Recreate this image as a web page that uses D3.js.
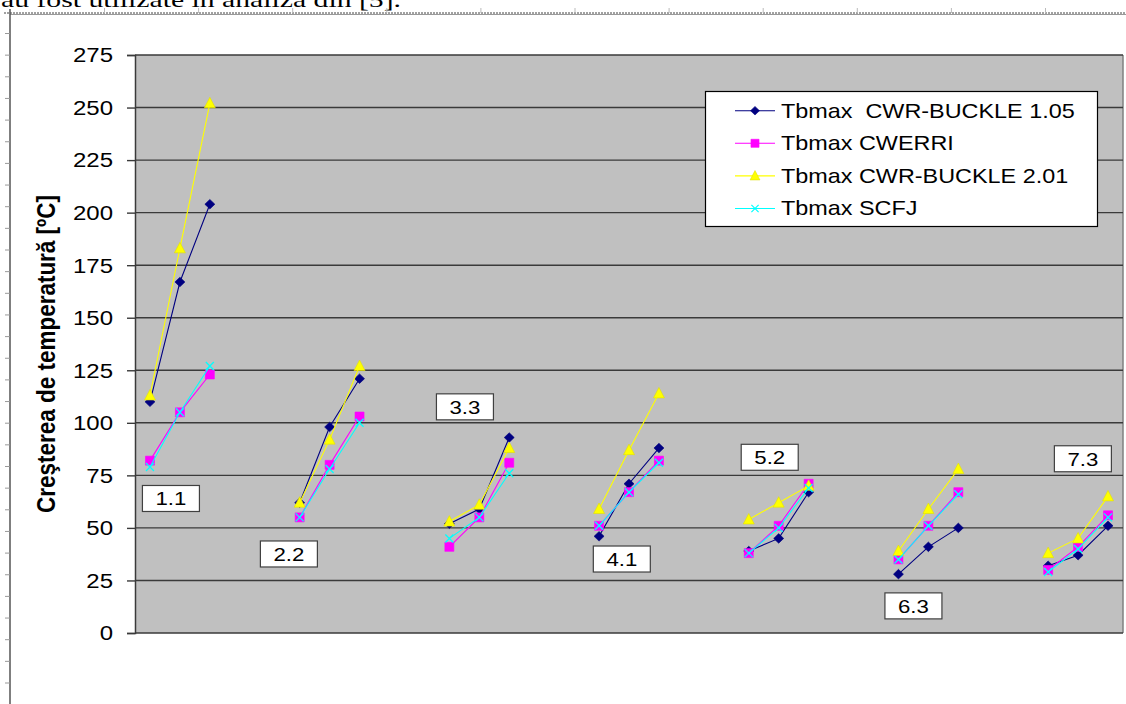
<!DOCTYPE html>
<html>
<head>
<meta charset="utf-8">
<script src="https://cdn.jsdelivr.net/npm/d3@7"></script>
<style>
html,body{margin:0;padding:0;background:#fff;overflow:hidden;}
svg{display:block;}
text{white-space:pre;}
</style>
</head>
<body>
<svg id="chart" width="1126" height="704"></svg>
<script>
// ---------------- data ----------------
const groups = ["1.1", "2.2", "3.3", "4.1", "5.2", "6.3", "7.3"];
const seriesNames = ["Tbmax  CWR-BUCKLE 1.05", "Tbmax CWERRI", "Tbmax CWR-BUCKLE 2.01", "Tbmax SCFJ"];
const buckle105 = [110, 167, 204, 62, 98, 121, 52, 59, 93, 46, 71, 88, 39, 45, 67, 28, 41, 50, 32, 37, 51];
const cwerri    = [82, 105, 123, 55, 80, 103, 41, 55, 81, 51, 67, 82, 38, 51, 71, 35, 51, 67, 30, 41, 56];
const buckle201 = [113, 183, 252, 62, 92, 127, 53, 61, 88, 59, 87, 114, 54, 62, 70, 39, 59, 78, 38, 45, 65];
const scfj      = [79, 105, 127, 55, 78, 100, 45, 55, 76, 51, 67, 81, 38, 50, 69, 35, 51, 66, 29, 40, 55];
const yTicks = [0, 25, 50, 75, 100, 125, 150, 175, 200, 225, 250, 275];
const yTitle = "Creşterea de temperatură [ºC]";
const docText = "au fost utilizate în analiza din [5].";
// label annotations: category position (in category units) and value
const labelNames = ["1.1", "2.2", "3.3", "4.1", "5.2", "6.3", "7.3"];
const labelCat   = [0.7, 4.64, 10.52, 15.76, 20.7, 25.5, 31.16];
const labelVal   = [64, 37.6, 107.6, 35.2, 83.6, 12.9, 82.9];

// ---------------- styling ----------------
const colors = ["#000080", "#FF00FF", "#FFFF00", "#00FFFF"];
const markers = ["diamond", "square", "triangle", "x"];
const pointsPerGroup = 3, slotsPerGroup = 5;
const nCats = groups.length * slotsPerGroup - 2;
const SX = 1.17; // horizontal stretch of text in the reference

const svg = d3.select("#chart");
const m = {left: 135, right: 1123, top: 55, bottom: 633};

const x = d3.scaleLinear().domain([-0.5, nCats - 0.5]).range([m.left, m.right]);
const y = d3.scaleLinear().domain([0, 275]).range([m.bottom, m.top]);

// ---------------- document decorations ----------------
svg.append("text").attr("x", 1).attr("y", 7)
  .attr("font-family", "Liberation Serif, Times New Roman, serif")
  .attr("font-size", 22).attr("fill", "#000")
  .attr("textLength", 400).attr("lengthAdjust", "spacingAndGlyphs")
  .text(docText);
svg.append("line").attr("x1", 4).attr("x2", 1126).attr("y1", 13).attr("y2", 13)
  .attr("stroke", "#444").attr("stroke-width", 1).attr("stroke-dasharray", "2,1");
svg.append("line").attr("x1", 10).attr("x2", 1126).attr("y1", 14.5).attr("y2", 14.5)
  .attr("stroke", "#999").attr("stroke-width", 1);
svg.append("line").attr("x1", 10).attr("x2", 10).attr("y1", 9).attr("y2", 704)
  .attr("stroke", "#555").attr("stroke-width", 1.5);
svg.append("g").selectAll("line").data(d3.range(0, 31)).join("line")
  .attr("x1", 5).attr("x2", 10)
  .attr("y1", d => 33.5 + d * 21.65).attr("y2", d => 33.5 + d * 21.65)
  .attr("stroke", "#999").attr("stroke-width", 1);
svg.append("g").selectAll("line").data(d3.range(0, 11)).join("line")
  .attr("x1", d => 104.5 + d * 94.1).attr("x2", d => 104.5 + d * 94.1)
  .attr("y1", 8).attr("y2", 13)
  .attr("stroke", "#bbb").attr("stroke-width", 1);

// ---------------- plot area ----------------
svg.append("rect").attr("x", m.left).attr("y", m.top)
  .attr("width", m.right - m.left).attr("height", m.bottom - m.top)
  .attr("fill", "#C0C0C0");
svg.append("line").attr("x1", m.right).attr("x2", m.right).attr("y1", m.top).attr("y2", m.bottom)
  .attr("stroke", "#808080").attr("stroke-width", 1.5);

// gridlines
svg.append("g").selectAll("line").data(yTicks).join("line")
  .attr("x1", m.left).attr("x2", m.right)
  .attr("y1", d => y(d)).attr("y2", d => y(d))
  .attr("stroke", "#3a3a3a").attr("stroke-width", 1.4);

// y axis
const yAxis = d3.axisLeft(y).tickValues(yTicks).tickSize(8).tickPadding(14).tickFormat(d3.format("d"));
const ga = svg.append("g").attr("transform", `translate(${m.left},0)`).call(yAxis);
ga.select(".domain").attr("stroke", "#3a3a3a").attr("stroke-width", 1.5);
ga.selectAll(".tick line").attr("stroke", "#3a3a3a").attr("stroke-width", 1.4);
ga.selectAll(".tick text")
  .attr("font-family", "Liberation Sans, Arial, sans-serif").attr("font-size", 20.5)
  .attr("fill", "#000").attr("x", null).attr("dy", null)
  .attr("dominant-baseline", "central")
  .attr("transform", `translate(-22,0) scale(${SX},1)`);

// y title
svg.append("text")
  .attr("transform", `translate(55,354) scale(${SX},1) rotate(-90)`)
  .attr("text-anchor", "middle")
  .attr("font-family", "Liberation Sans, Arial, sans-serif")
  .attr("font-weight", "bold").attr("font-size", 22.5).attr("fill", "#000")
  .text(yTitle);

// ---------------- series ----------------
const seriesData = [buckle105, cwerri, buckle201, scfj];
const catIndex = i => Math.floor(i / pointsPerGroup) * slotsPerGroup + (i % pointsPerGroup);

function markerPath(type) {
  if (type === "diamond") return "M0,-4.8L5,0L0,4.8L-5,0Z";
  if (type === "square") return "M-4.5,-4.5H4.5V4.5H-4.5Z";
  if (type === "triangle") return "M0,-6L5.5,4.5H-5.5Z";
  return "M-4,-4L4,4M-4,4L4,-4";
}
function drawMarker(g, type, color) {
  const p = g.append("path").attr("d", markerPath(type));
  if (type === "x") p.attr("fill", "none").attr("stroke", color).attr("stroke-width", 1.3);
  else p.attr("fill", color).attr("stroke", type === "triangle" ? "#e0e000" : color).attr("stroke-width", 0.6);
}

const line = d3.line().x(d => x(d.c)).y(d => y(d.v));
seriesData.forEach((vals, s) => {
  const g = svg.append("g");
  groups.forEach((gname, gi) => {
    const pts = d3.range(pointsPerGroup).map(k => {
      const i = gi * pointsPerGroup + k;
      return {c: catIndex(i), v: vals[i]};
    });
    g.append("path").attr("d", line(pts)).attr("fill", "none")
      .attr("stroke", colors[s]).attr("stroke-width", 1.1);
  });
  vals.forEach((v, i) => {
    const mg = g.append("g").attr("transform", `translate(${x(catIndex(i))},${y(v)})`);
    drawMarker(mg, markers[s], colors[s]);
  });
});

// ---------------- group labels ----------------
labelNames.forEach((name, i) => {
  const cx = x(labelCat[i]), cy = y(labelVal[i]);
  svg.append("rect").attr("x", cx - 28.5).attr("y", cy - 13).attr("width", 57).attr("height", 26)
    .attr("fill", "#fff").attr("stroke", "#404040").attr("stroke-width", 1.2);
  svg.append("text").attr("transform", `translate(${cx},${cy}) scale(${SX},1)`)
    .attr("text-anchor", "middle").attr("dominant-baseline", "central")
    .attr("font-family", "Liberation Sans, Arial, sans-serif").attr("font-size", 19)
    .attr("fill", "#000").text(name);
});

// ---------------- legend ----------------
const lg = svg.append("g");
lg.append("rect").attr("x", 705.5).attr("y", 91.5).attr("width", 392).attr("height", 135)
  .attr("fill", "#fff").attr("stroke", "#000").attr("stroke-width", 1.2);
seriesNames.forEach((name, s) => {
  const cy = 110.7 + s * 32.6;
  lg.append("line").attr("x1", 735).attr("x2", 775).attr("y1", cy).attr("y2", cy)
    .attr("stroke", colors[s]).attr("stroke-width", 1.1);
  const mg = lg.append("g").attr("transform", `translate(755,${cy}) scale(0.9)`);
  drawMarker(mg, markers[s], colors[s]);
  lg.append("text").attr("transform", `translate(781,${cy}) scale(${SX},1)`)
    .attr("dominant-baseline", "central")
    .attr("font-family", "Liberation Sans, Arial, sans-serif").attr("font-size", 20)
    .attr("fill", "#000").text(name);
});
</script>
</body>
</html>
